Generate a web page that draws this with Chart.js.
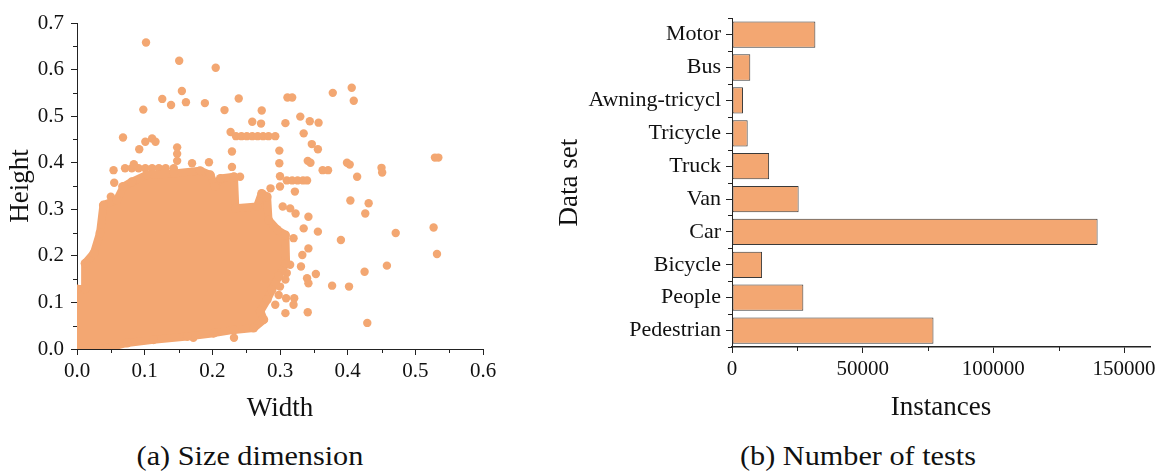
<!DOCTYPE html>
<html>
<head>
<meta charset="utf-8">
<script src="https://cdn.jsdelivr.net/npm/chart.js@4.4.1/dist/chart.umd.min.js"></script>
<style>
  body { margin: 0; background: #fff; }
  #wrap { position: relative; width: 1160px; height: 474px; overflow: hidden; }
  canvas { position: absolute; top: 0; }
  #sizeChart { left: 0; }
  #countChart { left: 540px; }
  .caption {
    position: absolute; top: 441px; width: 400px; text-align: center;
    font-family: "Liberation Serif", Tinos, "Times New Roman", Times, "Nimbus Roman", "Nimbus Roman No9 L", FreeSerif, "Noto Serif", "DejaVu Serif", serif;
    font-size: 27px; color: #111; transform: scaleX(1.12);
  }
</style>
</head>
<body>
<div id="wrap">
  <canvas id="sizeChart" width="540" height="430"></canvas>
  <canvas id="countChart" width="620" height="430"></canvas>
  <div class="caption" style="left:50px">(a) Size dimension</div>
  <div class="caption" style="left:658px">(b) Number of tests</div>
</div>
<script>
// ---- (a) box size: dense core outline + scattered boxes ----
const coreWidth = [0, 0, 0.012, 0.012, 0.025, 0.034, 0.039, 0.059, 0.069, 0.081, 0.103, 0.143, 0.182,
  0.197, 0.204, 0.212, 0.232, 0.234, 0.266, 0.273, 0.281, 0.283, 0.296, 0.308, 0.309, 0.298, 0.288,
  0.281, 0.271, 0.276, 0.261, 0.232, 0.202, 0.163, 0.113, 0.074, 0.044, 0.034, 0];
const coreHeight = [0, 0.129, 0.129, 0.184, 0.206, 0.249, 0.309, 0.32, 0.349, 0.359, 0.374, 0.377, 0.383,
  0.374, 0.349, 0.366, 0.37, 0.302, 0.306, 0.334, 0.327, 0.277, 0.256, 0.245, 0.184, 0.156, 0.127,
  0.106, 0.081, 0.063, 0.045, 0.041, 0.034, 0.027, 0.02, 0.013, 0.002, 0, 0];

const boxWidth = [0.102, 0.151, 0.205, 0.155, 0.126, 0.139, 0.161, 0.189, 0.098, 0.218, 0.239, 0.273,
  0.259, 0.272, 0.311, 0.318, 0.378, 0.406, 0.409, 0.357, 0.33, 0.344, 0.308, 0.068,
  0.227, 0.235, 0.243, 0.251, 0.259, 0.267, 0.275, 0.283, 0.293, 0.335,
  0.092, 0.101, 0.111, 0.116, 0.148, 0.148, 0.148, 0.229, 0.229, 0.299, 0.299, 0.3,
  0.347, 0.356, 0.341, 0.345, 0.363, 0.371, 0.399, 0.403, 0.45, 0.451, 0.414, 0.529, 0.534,
  0.067, 0.054, 0.055, 0.05, 0.071, 0.081, 0.091, 0.101, 0.111, 0.121, 0.131, 0.143, 0.084,
  0.17, 0.195, 0.241, 0.286, 0.3, 0.31, 0.318, 0.326, 0.334, 0.34, 0.322,
  0.304, 0.315, 0.323, 0.342, 0.335, 0.356, 0.431, 0.426, 0.404, 0.471, 0.527, 0.532, 0.39,
  0.32, 0.342, 0.333, 0.315, 0.331, 0.353, 0.34, 0.342, 0.31, 0.308, 0.3, 0.298, 0.309, 0.321,
  0.32, 0.308, 0.293, 0.274, 0.341, 0.377, 0.402, 0.425, 0.458, 0.429, 0.232, 0.172];
const boxHeight = [0.658, 0.619, 0.604, 0.554, 0.537, 0.524, 0.53, 0.528, 0.514, 0.513, 0.538, 0.512,
  0.488, 0.484, 0.54, 0.54, 0.55, 0.561, 0.533, 0.486, 0.499, 0.489, 0.485, 0.454,
  0.466, 0.457, 0.457, 0.457, 0.457, 0.457, 0.457, 0.457, 0.457, 0.463,
  0.429, 0.445, 0.452, 0.445, 0.433, 0.419, 0.404, 0.424, 0.391, 0.426, 0.399, 0.371,
  0.44, 0.429, 0.404, 0.4, 0.384, 0.384, 0.4, 0.396, 0.389, 0.379, 0.37, 0.411, 0.411,
  0.349, 0.384, 0.357, 0.327, 0.388, 0.388, 0.388, 0.388, 0.388, 0.388, 0.388, 0.388, 0.397,
  0.399, 0.401, 0.37, 0.345, 0.349, 0.362, 0.362, 0.362, 0.362, 0.362, 0.338,
  0.306, 0.302, 0.291, 0.284, 0.259, 0.252, 0.313, 0.291, 0.319, 0.249, 0.261, 0.204, 0.234,
  0.238, 0.216, 0.202, 0.181, 0.177, 0.161, 0.152, 0.141, 0.163, 0.149, 0.134, 0.116, 0.109, 0.109,
  0.095, 0.077, 0.095, 0.096, 0.079, 0.136, 0.134, 0.166, 0.179, 0.056, 0.024, 0.024];

const widthTicks = [0, 0.1, 0.2, 0.3, 0.4, 0.5, 0.6];
const heightTicks = [0, 0.1, 0.2, 0.3, 0.4, 0.5, 0.6, 0.7];

// ---- (b) instances per class ----
const classes = ["Motor", "Bus", "Awning-tricycl", "Tricycle", "Truck", "Van", "Car", "Bicycle", "People", "Pedestrian"];
const instances = [31900, 7000, 4200, 6000, 14200, 25500, 139900, 11500, 27300, 77100];
const instanceTicks = [0, 50000, 100000, 150000];
const instanceMinor = [25000, 75000, 125000];

const orange = "#F3A772";
const ink = "#222";
const serif = '"Liberation Serif", Tinos, "Times New Roman", Times, "Nimbus Roman", "Nimbus Roman No9 L", FreeSerif, "Noto Serif", "DejaVu Serif", serif';

// short tick marks between the labelled ones
const minorTicks = {
  id: "minorTicks",
  afterDraw(chart, args, opts) {
    const ctx = chart.ctx;
    const area = chart.chartArea;
    ctx.save();
    ctx.strokeStyle = ink;
    ctx.lineWidth = 1;
    ctx.beginPath();
    (opts.list || []).forEach((item) => {
      const scale = chart.scales[item.id];
      item.values.forEach((v) => {
        const p = Math.round(scale.getPixelForValue(v)) + 0.5;
        if (scale.isHorizontal()) {
          ctx.moveTo(p, area.bottom);
          ctx.lineTo(p, area.bottom + 4);
        } else {
          ctx.moveTo(area.left, p);
          ctx.lineTo(area.left - 4, p);
        }
      });
    });
    ctx.stroke();
    ctx.restore();
  },
};

const half = (arr) => arr.slice(0, -1).map((v, i) => (v + arr[i + 1]) / 2);

new Chart(document.getElementById("sizeChart"), {
  type: "scatter",
  data: {
    datasets: [
      {
        data: coreWidth.map((x, i) => ({ x, y: coreHeight[i] })),
        showLine: true,
        fill: "shape",
        backgroundColor: orange,
        borderColor: orange,
        borderWidth: 8,
        borderJoinStyle: "round",
        pointRadius: 4.5,
        pointBackgroundColor: orange,
        pointBorderWidth: 0,
      },
      {
        data: boxWidth.map((x, i) => ({ x, y: boxHeight[i] })),
        pointRadius: 4.2,
        pointBackgroundColor: orange,
        pointBorderWidth: 0,
      },
    ],
  },
  options: {
    responsive: false,
    animation: false,
    layout: { padding: { top: 23, right: 57, left: 0, bottom: 0 } },
    plugins: {
      legend: { display: false },
      tooltip: { enabled: false },
      minorTicks: {
        list: [
          { id: "x", values: half(widthTicks) },
          { id: "y", values: half(heightTicks) },
        ],
      },
    },
    scales: {
      x: {
        min: 0,
        max: 0.6,
        afterBuildTicks: (s) => { s.ticks = widthTicks.map((value) => ({ value })); },
        afterFit: (s) => { s.height = 81; },
        grid: { drawOnChartArea: false, tickLength: 6, tickColor: ink },
        border: { color: ink, width: 1 },
        ticks: { color: "#111", padding: 4, font: { family: serif, size: 21 }, callback: (v) => Number(v).toFixed(1) },
        title: { display: true, text: "Width", color: "#111", padding: 5, font: { family: serif, size: 27 } },
      },
      y: {
        min: 0,
        max: 0.7,
        afterBuildTicks: (s) => { s.ticks = heightTicks.map((value) => ({ value })); },
        afterFit: (s) => { s.width = 77; },
        grid: { drawOnChartArea: false, tickLength: 6, tickColor: ink },
        border: { color: ink, width: 1 },
        ticks: { color: "#111", padding: 7, font: { family: serif, size: 21 }, callback: (v) => Number(v).toFixed(1) },
        title: { display: true, text: "Height", color: "#111", padding: 5, font: { family: serif, size: 27 } },
      },
    },
  },
  plugins: [minorTicks],
});

new Chart(document.getElementById("countChart"), {
  type: "bar",
  data: {
    labels: classes,
    datasets: [
      {
        data: instances,
        backgroundColor: orange,
        borderColor: "#3a3a3a",
        borderWidth: 1,
        borderSkipped: false,
        barPercentage: 0.8,
        categoryPercentage: 1,
      },
    ],
  },
  options: {
    indexAxis: "y",
    responsive: false,
    animation: false,
    layout: { padding: { top: 9, right: 8, left: 0, bottom: 0 } },
    plugins: {
      legend: { display: false },
      tooltip: { enabled: false },
      minorTicks: {
        list: [
          { id: "x", values: instanceMinor },
          { id: "y", values: classes.map((c, i) => i - 0.5).concat([classes.length - 0.5]) },
        ],
      },
    },
    scales: {
      x: {
        min: 0,
        max: 160000,
        afterBuildTicks: (s) => { s.ticks = instanceTicks.map((value) => ({ value })); },
        afterFit: (s) => { s.height = 83; },
        grid: { drawOnChartArea: false, tickLength: 6, tickColor: ink },
        border: { color: ink, width: 1.5 },
        ticks: { color: "#111", padding: 4, font: { family: serif, size: 21 }, callback: (v) => String(v) },
        title: { display: true, text: "Instances", color: "#111", padding: 6, font: { family: serif, size: 27 } },
      },
      y: {
        afterFit: (s) => { s.width = 192; },
        grid: { drawOnChartArea: false, offset: false, tickLength: 6, tickColor: ink },
        border: { color: ink, width: 1 },
        ticks: { color: "#111", padding: 5, font: { family: serif, size: 22 } },
        title: { display: true, text: "Data set", color: "#111", padding: 14, font: { family: serif, size: 27 } },
      },
    },
  },
  plugins: [minorTicks],
});
</script>
</body>
</html>
